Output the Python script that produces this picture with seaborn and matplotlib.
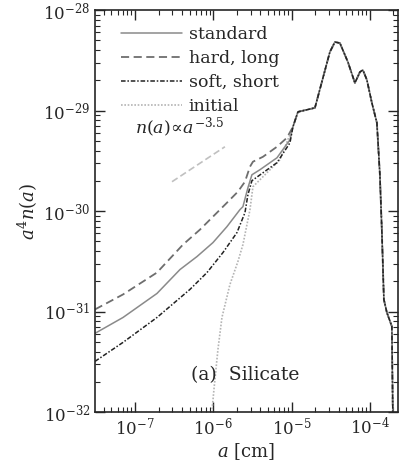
import numpy as np
import pandas as pd
import seaborn as sns
import matplotlib
matplotlib.use('Agg')
import matplotlib.pyplot as plt
from matplotlib.ticker import LogLocator, NullFormatter

# log10 of a [cm] and of a^4 n(a)
standard_x = [-7.511, -7.153, -6.719, -6.425, -6.208, -6.004, -5.825, -5.659, -5.621,
              -5.557, -5.506, -5.404, -5.186, -5.020, -4.982]
standard_y = [-31.217, -31.059, -30.820, -30.582, -30.453, -30.314, -30.155, -29.986, -29.956,
              -29.768, -29.639, -29.589, -29.470, -29.291, -29.162]

hard_x = [-7.511, -7.153, -6.719, -6.387, -6.170, -6.004, -5.825, -5.685, -5.595,
          -5.531, -5.493, -5.365, -5.186, -5.059, -4.982]
hard_y = [-30.979, -30.830, -30.612, -30.334, -30.185, -30.056, -29.917, -29.807, -29.708,
          -29.559, -29.509, -29.460, -29.360, -29.271, -29.162]

soft_x = [-7.511, -7.153, -6.719, -6.298, -6.080, -5.876, -5.697, -5.595, -5.557,
          -5.506, -5.365, -5.186, -5.020, -4.982]
soft_y = [-31.496, -31.307, -31.059, -30.780, -30.612, -30.413, -30.214, -30.016, -29.837,
          -29.698, -29.619, -29.519, -29.321, -29.162]

initial_x = [-6.029, -6.017, -5.991, -5.940, -5.889, -5.787, -5.685, -5.621, -5.531,
             -5.493, -5.314, -5.148, -4.982]
initial_y = [-32.270, -31.992, -31.774, -31.376, -31.059, -30.731, -30.502, -30.334, -29.986,
             -29.758, -29.619, -29.490, -29.162]

# common large-grain part shared by all four runs
tail_x = [-4.918, -4.701, -4.510, -4.446, -4.382, -4.280, -4.190, -4.126, -4.088, -4.037,
          -3.973, -3.909, -3.871, -3.845, -3.820, -3.782, -3.718, -3.706, -3.699]
tail_y = [-29.013, -28.973, -28.417, -28.318, -28.328, -28.516, -28.725, -28.616, -28.596,
          -28.695, -28.924, -29.122, -29.639, -30.214, -30.880, -31.009, -31.148, -31.992, -32.67]

# reference slope n(a) ~ a^-3.5
powerlaw_x = [-6.527, -5.851]
powerlaw_y = [-29.708, -29.360]

xticks = [1e-7, 1e-6, 1e-5, 1e-4]
yticks = [1e-32, 1e-31, 1e-30, 1e-29, 1e-28]

labels = ['initial', 'standard', 'hard, long', 'soft, short']
series = {
    'standard': (standard_x, standard_y),
    'hard, long': (hard_x, hard_y),
    'soft, short': (soft_x, soft_y),
    'initial': (initial_x, initial_y),
}
styles = {
    'standard': dict(color='#8a8a8a', linestyle='-', lw=1.1),
    'hard, long': dict(color='#6e6e6e', linestyle=(0, (4.5, 2.5)), lw=1.3),
    'soft, short': dict(color='#222222', linestyle=(0, (3, 1.2, 1, 1.2)), lw=1.1),
    'initial': dict(color='#b4b4b4', linestyle=(0, (1, 1)), lw=1.2),
}

frames = []
for name, (xs, ys) in series.items():
    frames.append(pd.DataFrame({
        'a': 10.0 ** np.array(xs + tail_x),
        'val': 10.0 ** np.array(ys + tail_y),
        'run': name,
    }))
df = pd.concat(frames, ignore_index=True)

sns.set_style('ticks')
plt.rcParams['font.family'] = ['DejaVu Serif']
plt.rcParams['mathtext.fontset'] = 'dejavuserif'

fig = plt.figure(figsize=(4.06, 4.69), dpi=100)
ax = fig.add_axes([0.234, 0.1215, 0.746, 0.857])

for name in labels:
    sns.lineplot(data=df[df.run == name], x='a', y='val', ax=ax, sort=False,
                 estimator=None, label=name, **styles[name])

ax.plot(10.0 ** np.array(powerlaw_x), 10.0 ** np.array(powerlaw_y),
        color='#c0c0c0', linestyle=(0, (4, 2)), lw=1.2)
ax.text(1e-7, 10 ** -29.17, r'$n(a)\!\propto\! a^{-3.5}$', fontsize=12.5, va='center', ha='left')
ax.text(10 ** -5.595, 10 ** -31.63, '(a)  Silicate', fontsize=13.5, ha='center', va='center')

ax.set(xscale='log', yscale='log')
ax.set_xlim(10 ** -7.511, 10 ** -3.641)
ax.set_ylim(1e-32, 1e-28)
ax.set_xticks(xticks)
ax.set_yticks(yticks)
ax.set_xlabel(r'$a$ [cm]', fontsize=13, labelpad=2)
ax.set_ylabel(r'$a^4n(a)$', fontsize=13, labelpad=2)

ax.xaxis.set_minor_locator(LogLocator(base=10, subs=np.arange(2, 10), numticks=20))
ax.xaxis.set_minor_formatter(NullFormatter())
ax.yaxis.set_minor_locator(LogLocator(base=10, subs=np.arange(2, 10), numticks=20))
ax.yaxis.set_minor_formatter(NullFormatter())
ax.tick_params(which='both', direction='in', top=True, right=True, labelsize=12)
ax.tick_params(which='major', length=7, width=1.0)
ax.tick_params(which='minor', length=3.5, width=0.8)
for s in ax.spines.values():
    s.set_linewidth(1.2)

handles, labs = ax.get_legend_handles_labels()
order = [labs.index(l) for l in ['standard', 'hard, long', 'soft, short', 'initial']]
ax.legend([handles[i] for i in order], [labs[i] for i in order], loc='upper left',
          frameon=False, fontsize=12.5, handlelength=3.5, handletextpad=0.4,
          labelspacing=0.4, borderaxespad=0.4, bbox_to_anchor=(0.04, 0.995))

fig.savefig('out.png', dpi=100)
